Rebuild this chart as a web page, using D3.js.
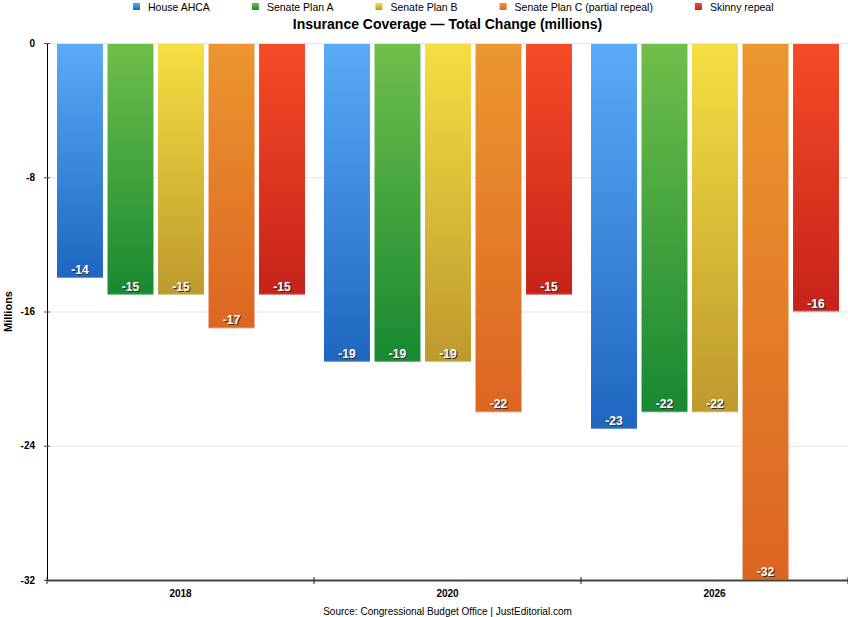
<!DOCTYPE html>
<html>
<head>
<meta charset="utf-8">
<style>
  body { margin: 0; background: #fff; }
  text { font-family: Helvetica, Arial, "Liberation Sans", sans-serif; }
</style>
</head>
<body>
<svg width="848" height="617"></svg>
<script src="https://d3js.org/d3.v7.min.js"></script>
<script>

var years = ["2018", "2020", "2026"];
var plans = ["House AHCA", "Senate Plan A", "Senate Plan B", "Senate Plan C (partial repeal)", "Skinny repeal"];
var houseAHCA = [-14, -19, -23];
var senatePlanA = [-15, -19, -22];
var senatePlanB = [-15, -19, -22];
var senatePlanC = [-17, -22, -32];
var skinnyRepeal = [-15, -15, -16];
var yTicks = [0, -8, -16, -24, -32];

var values = [houseAHCA, senatePlanA, senatePlanB, senatePlanC, skinnyRepeal];

// top / bottom colours of each series gradient
var topColors = ["#5aabf7", "#70be4b", "#f6de42", "#ec962f", "#f64b27"];
var bottomColors = ["#1e66c0", "#178931", "#be992e", "#dc6522", "#c6221a"];

var svg = d3.select("svg"),
    margin = {top: 43, right: 0, bottom: 37, left: 47},
    width = +svg.attr("width") - margin.left - margin.right,
    height = +svg.attr("height") - margin.top - margin.bottom;

var defs = svg.append("defs");
plans.forEach(function(p, i) {
  var g = defs.append("linearGradient")
      .attr("id", "grad" + i)
      .attr("x1", 0).attr("y1", 0).attr("x2", 0).attr("y2", 1);
  g.append("stop").attr("offset", "0%").attr("stop-color", topColors[i]);
  g.append("stop").attr("offset", "100%").attr("stop-color", bottomColors[i]);
});

var x0 = d3.scaleBand().domain(years).range([0, width]);
var x1 = d3.scaleBand().domain(plans).range([10, x0.bandwidth() - 9]).paddingInner(0.09);
var y = d3.scaleLinear().domain([0, -32]).range([0, height]);

var g = svg.append("g").attr("transform", "translate(" + margin.left + "," + margin.top + ")");

// grid
g.selectAll(".grid")
  .data(yTicks.slice(0, -1))
  .enter().append("line")
    .attr("x1", 0).attr("x2", width)
    .attr("y1", function(d) { return y(d) + 0.5; })
    .attr("y2", function(d) { return y(d) + 0.5; })
    .attr("stroke", "#e6e6e6");

// bars
var rows = [];
years.forEach(function(yr, j) {
  plans.forEach(function(p, i) {
    rows.push({year: yr, plan: p, i: i, value: values[i][j]});
  });
});

var bar = g.selectAll(".bar")
  .data(rows)
  .enter().append("g")
    .attr("transform", function(d) { return "translate(" + (x0(d.year) + x1(d.plan)) + ",0)"; });

bar.append("rect")
    .attr("y", 1)
    .attr("width", x1.bandwidth())
    .attr("height", function(d) { return y(d.value) - 1; })
    .attr("fill", function(d) { return "url(#grad" + d.i + ")"; });

bar.append("rect")
    .attr("y", function(d) { return y(d.value) - 1; })
    .attr("width", x1.bandwidth())
    .attr("height", 1)
    .attr("fill", "#fff")
    .attr("opacity", 0.3);

bar.append("text")
    .attr("x", x1.bandwidth() / 2 + 1)
    .attr("y", function(d) { return y(d.value) - 3; })
    .attr("text-anchor", "middle")
    .attr("font-size", 12)
    .attr("font-weight", "bold")
    .attr("fill", "#333")
    .text(function(d) { return d.value; });

bar.append("text")
    .attr("x", x1.bandwidth() / 2)
    .attr("y", function(d) { return y(d.value) - 4; })
    .attr("text-anchor", "middle")
    .attr("font-size", 12)
    .attr("font-weight", "bold")
    .attr("fill", "#fff")
    .text(function(d) { return d.value; });

// y axis
var yAxis = g.append("g")
    .call(d3.axisLeft(y).tickValues(yTicks).tickFormat(function(d) { return String(d); })
      .tickSize(4).tickPadding(8));
yAxis.select(".domain").attr("stroke", "#000").attr("d", "M0.5," + 0 + "V" + height);
yAxis.selectAll(".tick line").attr("stroke", "#555").attr("x2", 3).attr("x1", -3);
yAxis.selectAll(".tick text")
    .attr("font-size", 10).attr("font-weight", "bold").attr("fill", "#000")
    .attr("font-family", "Helvetica, Arial, 'Liberation Sans', sans-serif");

// x axis
var xAxis = g.append("g")
    .attr("transform", "translate(0," + height + ")")
    .call(d3.axisBottom(x0).tickSize(0).tickPadding(10));
xAxis.select(".domain").attr("stroke", "#444").attr("stroke-width", 2);
xAxis.selectAll(".tick text")
    .attr("font-size", 10).attr("font-weight", "bold").attr("fill", "#000")
    .attr("font-family", "Helvetica, Arial, 'Liberation Sans', sans-serif");
xAxis.selectAll(".sep")
  .data(d3.range(years.length + 1))
  .enter().append("line")
    .attr("x1", function(d) { return d * x0.step(); })
    .attr("x2", function(d) { return d * x0.step(); })
    .attr("y1", -3).attr("y2", 4)
    .attr("stroke", "#222");

// y label
svg.append("text")
    .attr("transform", "translate(12," + (margin.top + y(-16)) + ") rotate(-90)")
    .attr("text-anchor", "middle")
    .attr("font-size", 11)
    .attr("font-weight", "bold")
    .text("Millions");

// title
svg.append("text")
    .attr("x", margin.left + width / 2)
    .attr("y", 29)
    .attr("text-anchor", "middle")
    .attr("font-size", 14)
    .attr("font-weight", "bold")
    .text("Insurance Coverage \u2014 Total Change (millions)");

// source
svg.append("text")
    .attr("x", margin.left + width / 2)
    .attr("y", 615)
    .attr("text-anchor", "middle")
    .attr("font-size", 10)
    .text("Source: Congressional Budget Office | JustEditorial.com");

// legend
var lx = 133;
plans.forEach(function(p, i) {
  svg.append("rect")
      .attr("x", lx).attr("y", 3)
      .attr("width", 7).attr("height", 7)
      .attr("fill", "url(#grad" + i + ")");
  var t = svg.append("text")
      .attr("x", lx + 15).attr("y", 10.5)
      .attr("font-size", 10.5)
      .attr("font-weight", 500)
      .text(p);
  lx += 15 + t.node().getComputedTextLength() + 42;
});

</script>
</body>
</html>
